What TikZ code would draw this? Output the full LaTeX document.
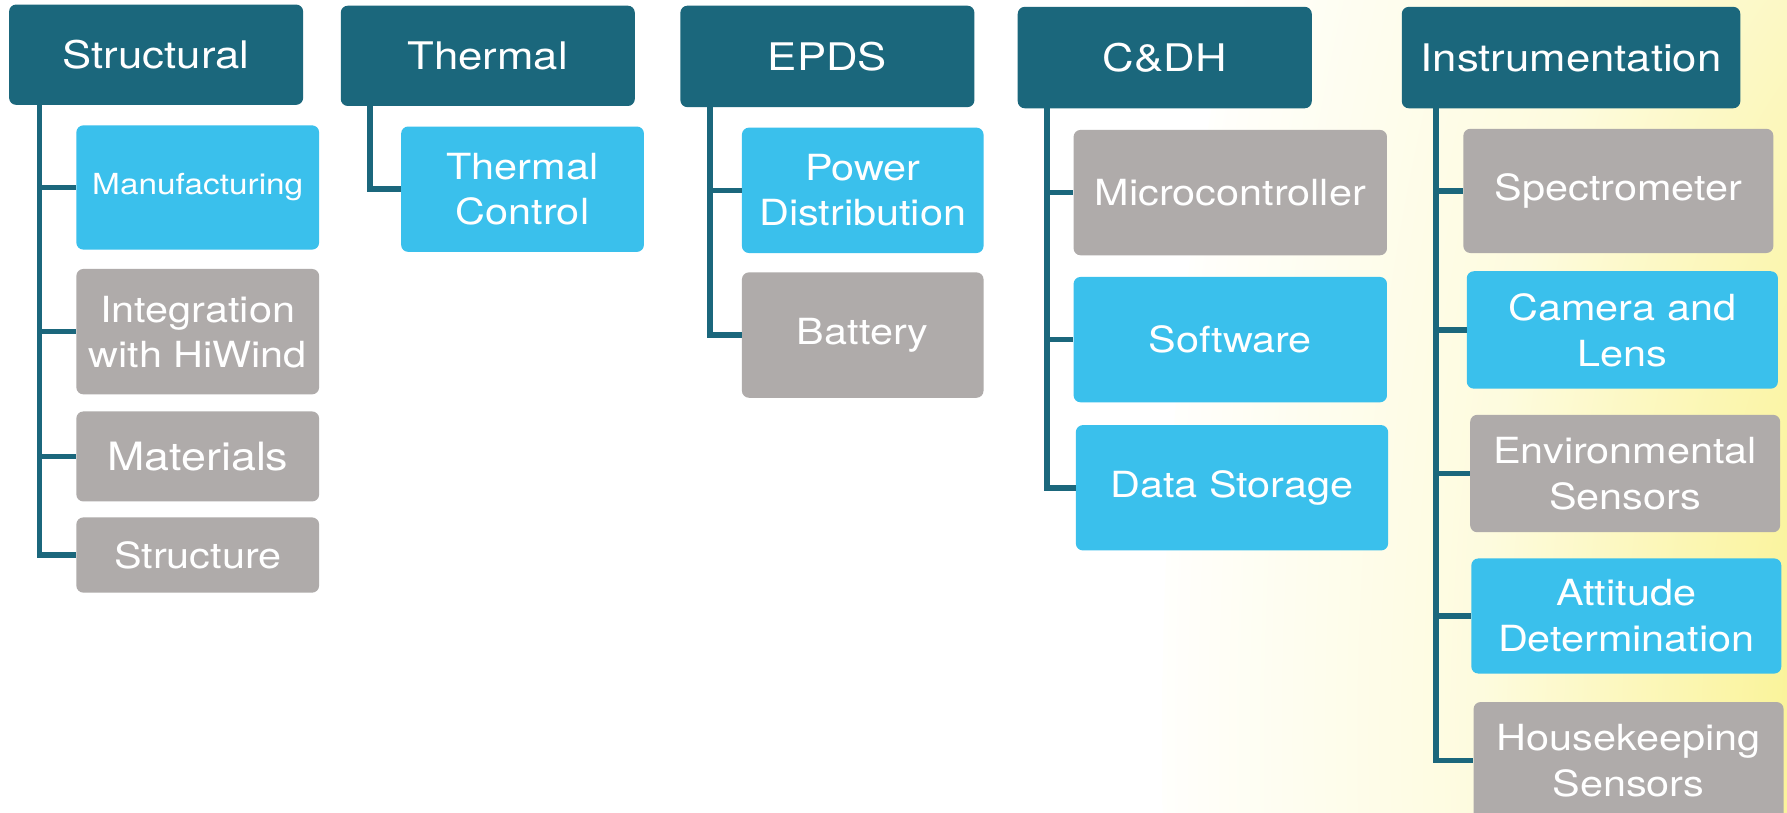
\documentclass[tikz,border=0pt]{standalone}
\usepackage{fontspec}
\newfontfamily\hv{TeX Gyre Heros}[FakeStretch=1.15]
\usetikzlibrary{fit}
\definecolor{hdcol}{RGB}{27,103,124}
\definecolor{skyc}{RGB}{58,192,236}
\definecolor{grayc}{RGB}{175,171,170}
\definecolor{glowy}{RGB}{250,243,152}
\colorlet{glowa}{glowy!60!white}
\colorlet{glowb}{glowy!32!white}
\colorlet{glowc}{glowy!12!white}
\pgfdeclareradialshading{glow}{\pgfpoint{0bp}{0bp}}{color(0bp)=(glowy); color(5bp)=(glowy); color(11bp)=(glowa); color(15bp)=(glowb); color(22bp)=(glowc); color(26bp)=(white); color(50bp)=(white)}
\begin{document}
\begin{tikzpicture}[x=1.1397pt,y=-1.1397pt,
  box/.style={inner sep=0pt, rounded corners=7pt},
  head/.style={box, fill=hdcol},
  bbox/.style={box, fill=skyc},
  gbox/.style={box, fill=grayc},
  txt/.style={inner sep=0pt, text=white, align=center, font=\hv\fontsize{36}{45}\selectfont},
  htxt/.style={txt, font=\hv\fontsize{38}{45}\selectfont},
  itxt/.style={txt, font=\hv\fontsize{36}{46}\selectfont},
  trunk/.style={draw=hdcol, line width=5.5pt}]
\useasboundingbox (0,0) rectangle (1568,713);
\begin{scope}
  \clip (0,0) rectangle (1568,713);
  \fill[white] (0,0) rectangle (1568,713);
  \shade[shading=glow] (1720,650) ellipse [x radius=798pt, y radius=1824pt];
\end{scope}
\clip (0,0) rectangle (1568,713);
% headers
\node[head, fit={(8,4) (266,92)}] (hS) {};
\node[head, fit={(299,5) (557,93)}] (hT) {};
\node[head, fit={(597,5) (855,94)}] (hE) {};
\node[head, fit={(893,6) (1151,95)}] (hC) {};
\node[head, fit={(1230,6) (1527,95)}] (hI) {};
\node[htxt] (hSt) at (hS.center) {Structural};
\node[htxt] (hTt) at (hT.center) {Thermal};
\node[htxt] (hEt) at (hE.center) {EPDS};
\node[htxt] (hCt) at (hC.center) {C\&DH};
\node[htxt] (hIt) at (hI.center) {Instrumentation};
% Structural
\node[bbox, fit={(67,110) (280,219)}] (sMan) {};
\node[gbox, fit={(67,236) (280,346)}] (sInt) {};
\node[gbox, fit={(67,361) (280,440)}] (sMat) {};
\node[gbox, fit={(67,454) (280,520)}] (sStr) {};
\node[txt, font=\hv\fontsize{29}{36}\selectfont] (sMant) at (sMan.center) {Manufacturing};
\node[txt] (sIntt) at (sInt.center) {Integration\\with HiWind};
\node[txt, font=\hv\fontsize{39}{45}\selectfont] (sMatt) at (sMat.center) {Materials};
\node[txt] (sStrt) at (sStr.center) {Structure};
% Thermal
\node[bbox, fit={(352,111) (565,221)}] (tCon) {};
\node[txt] (tCont) at (tCon.center) {Thermal\\Control};
% EPDS
\node[bbox, fit={(651,112) (863,222)}] (ePow) {};
\node[gbox, fit={(651,239) (863,349)}] (eBat) {};
\node[txt] (ePowt) at (ePow.center) {Power\\Distribution};
\node[txt] (eBatt) at (eBat.center) {Battery};
% C&DH
\node[gbox, fit={(942,114) (1217,224)}] (cMic) {};
\node[bbox, fit={(942,243) (1217,353)}] (cSof) {};
\node[bbox, fit={(944,373) (1218,483)}] (cDat) {};
\node[txt] (cMict) at (cMic.center) {Microcontroller};
\node[txt] (cSoft) at (cSof.center) {Software};
\node[txt] (cDatt) at (cDat.center) {Data Storage};
% Instrumentation
\node[gbox, fit={(1284,113) (1556,222)}] (iSpe) {};
\node[bbox, fit={(1287,238) (1560,341)}] (iCam) {};
\node[gbox, fit={(1290,364) (1562,467)}] (iEnv) {};
\node[bbox, fit={(1291,490) (1563,591)}] (iAtt) {};
\node[gbox, fit={(1293,616) (1565,719)}] (iHou) {};
\node[itxt] (iSpet) at (iSpe.center) {Spectrometer};
\node[itxt] (iCamt) at (iCam.center) {Camera and\\Lens};
\node[itxt] (iEnvt) at (iEnv.center) {Environmental\\Sensors};
\node[itxt] (iAttt) at (iAtt.center) {Attitude\\Determination};
\node[itxt] (iHout) at (iHou.center) {Housekeeping\\Sensors};
% trunk tops
\path (hS.south west) ++(27,0) coordinate (tS);
\path (hT.south west) ++(26,0) coordinate (tT);
\path (hE.south west) ++(26,0) coordinate (tE);
\path (hC.south west) ++(26,0) coordinate (tC);
\path (hI.south west) ++(30,0) coordinate (tI);
% connectors
\foreach \c in {sMan,sInt,sMat,sStr} \draw[trunk] (tS) |- (\c.west);
\draw[trunk] (tT) |- (tCon.west);
\foreach \c in {ePow,eBat} \draw[trunk] (tE) |- (\c.west);
\foreach \c in {cMic,cSof,cDat} \draw[trunk] (tC) |- (\c.west);
\foreach \c in {iSpe,iCam,iEnv,iAtt,iHou} \draw[trunk] (tI) |- (\c.west);
\end{tikzpicture}
\end{document}
